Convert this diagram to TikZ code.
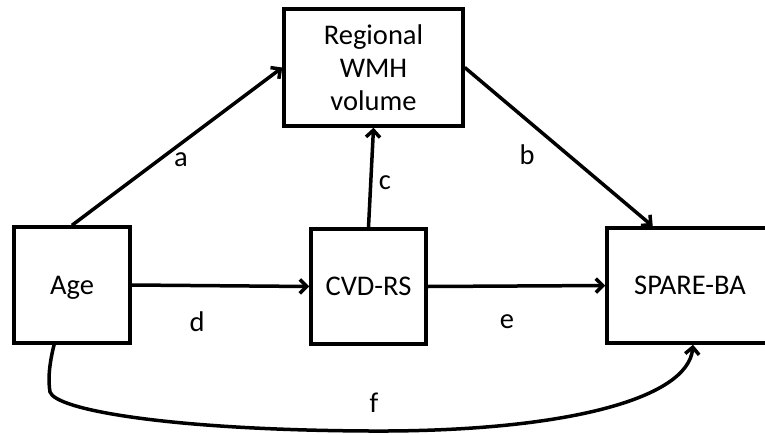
\documentclass[tikz,border=0pt]{standalone}
\usepackage{fontspec}
\setmainfont{Carlito}
\usetikzlibrary{arrows.meta,calc}
\begin{document}
\begin{tikzpicture}[x=1pt,y=-1pt,
  box/.style={draw,line width=3.5pt,rectangle,inner sep=0pt,align=center,
    font=\fontsize{28.5}{33}\selectfont},
  onebox/.style={box,text depth=-4pt},
  conn/.style={line width=3.5pt,-{Straight Barb[length=7pt,width=14pt,line width=3.5pt]}},
  lbl/.style={font=\fontsize{28.5}{33}\selectfont,inner sep=0pt}]
\clip (0,0) rectangle (765,434);
\fill[white] (0,0) rectangle (765,434);
\node[box,minimum width=179pt,minimum height=117pt] (wmh) at (373.5,67.5) {Regional\\WMH\\volume};
\node[onebox,minimum width=116pt,minimum height=116pt] (age) at (72,285) {Age};
\node[onebox,minimum width=115pt,minimum height=115pt] (cvd) at (368.5,286.5) {CVD-RS};
\node[onebox,minimum width=166pt,minimum height=115pt] (spare) at (690,285.5) {SPARE-BA};
\coordinate (bend) at ($(spare.north west)!0.28!(spare.north east)$);
\coordinate (fstart) at ($(age.south west)!0.35!(age.south east)$);
\coordinate (fend) at ([xshift=3pt]spare.south);
\draw[conn] (age.north) -- (wmh.west);
\draw[conn] (wmh.east) -- (bend);
\draw[conn] (cvd.north) -- (wmh.south);
\draw[conn] (age.east) -- (cvd.west);
\draw[conn] (cvd.east) -- (spare.west);
\draw[conn] (fstart) .. controls (49,365) and (48,380) .. (50,392)
  .. controls (56,410) and (170,430) .. (370,431)
  .. controls (560,432) and (688,400) .. (fend);
\node[lbl] (la) at (181,160) {a};
\node[lbl] (lb) at (527,155) {b};
\node[lbl] (lc) at (385,183) {c};
\node[lbl] (ld) at (197,322) {d};
\node[lbl] (le) at (507,322) {e};
\node[lbl] (lf) at (374,403) {f};
\end{tikzpicture}
\end{document}
